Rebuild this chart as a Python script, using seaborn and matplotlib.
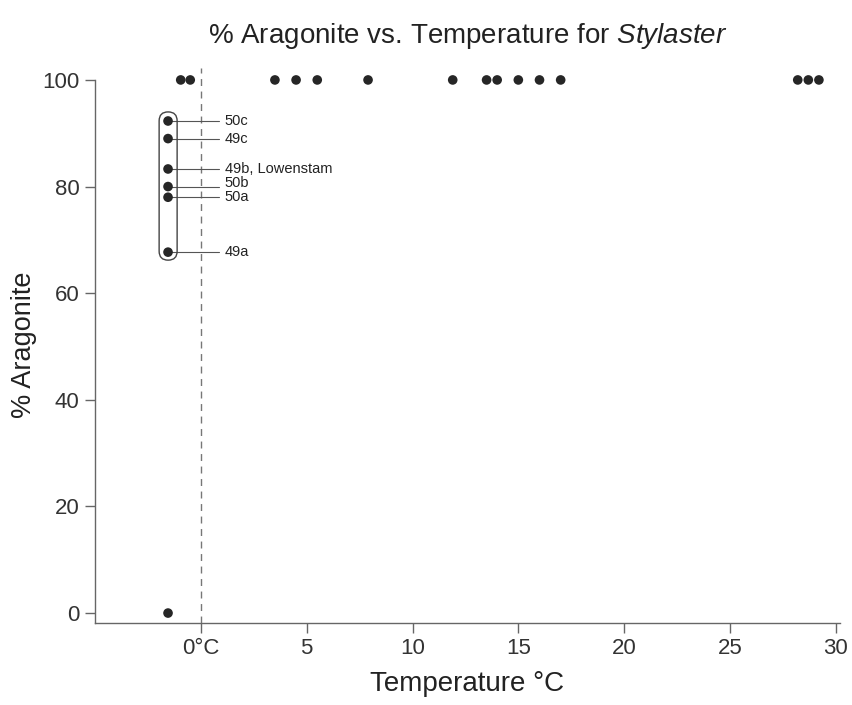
import matplotlib
matplotlib.use("Agg")
import matplotlib.pyplot as plt
import seaborn as sns
import pandas as pd
from matplotlib.patches import FancyBboxPatch

sns.set_style("white")
plt.rcParams['font.family'] = ['Liberation Sans', 'DejaVu Sans']
plt.rcParams['mathtext.fontset'] = 'custom'
plt.rcParams['mathtext.it'] = 'Liberation Sans:italic'
plt.rcParams['mathtext.rm'] = 'Liberation Sans'

# Data
temp_100 = [-0.95, -0.5, 3.5, 4.5, 5.5, 7.9, 11.9, 13.5, 14.0, 15.0, 16.0, 17.0, 28.2, 28.7, 29.2]
arag_100 = [100] * len(temp_100)
cluster_temp = [-1.55, -1.55, -1.55, -1.55, -1.55, -1.55]
cluster_arag = [92.3, 89.0, 83.3, 80.0, 78.0, 67.7]
cluster_labels = ["50c", "49c", "49b, Lowenstam", "50b", "50a", "49a"]
label_y = [92.3, 89.0, 83.3, 80.6, 78.0, 67.7]
zero_temp = [-1.55]
zero_arag = [0]

df = pd.DataFrame({
    "temp": temp_100 + cluster_temp + zero_temp,
    "arag": arag_100 + cluster_arag + zero_arag,
})

fig = plt.figure(figsize=(8.52, 7.05), dpi=100)
ax = fig.add_axes([0.1115, 0.1168, 0.8745, 0.7872])

sns.scatterplot(data=df, x="temp", y="arag", ax=ax, color="#262626", s=48,
                edgecolor="none", zorder=3)

ax.set_xlim(-5.0, 30.2)
ax.set_ylim(-1.8, 102.3)

ax.axvline(0, color="#777777", lw=1, ls=(0, (5, 4)), zorder=1)

# leader lines and labels
for t, a, ly, lab in zip(cluster_temp, cluster_arag, label_y, cluster_labels):
    ax.plot([t, 0.86], [a, a], color="#555555", lw=0.8, zorder=2)
    ax.text(1.12, ly, lab, fontsize=10.5, va="center", ha="left", color="#222222")

box = FancyBboxPatch((-1.97, 66.2), 0.85, 27.8,
                     boxstyle="round,pad=0,rounding_size=0.42",
                     mutation_aspect=4.0,
                     fill=False, edgecolor="#444444", lw=1, zorder=2)
ax.add_patch(box)

ax.set_xticks([0, 5, 10, 15, 20, 25, 30])
ax.set_xticklabels(["0°C", "5", "10", "15", "20", "25", "30"])
ax.set_yticks([0, 20, 40, 60, 80, 100])

for s in ["top", "right"]:
    ax.spines[s].set_visible(False)
for s in ["left", "bottom"]:
    ax.spines[s].set_color("#666666")
    ax.spines[s].set_linewidth(1)
ax.spines["left"].set_bounds(-1.8, 100)

ax.tick_params(axis="both", direction="out", length=7, width=1, color="#666666",
               labelsize=16, labelcolor="#333333", pad=4, bottom=True, left=True)

ax.set_xlabel("Temperature °C", fontsize=20, color="#222222", labelpad=9)
ax.set_ylabel("% Aragonite", fontsize=19.5, color="#222222", labelpad=4)
ax.set_title(r"% Aragonite vs. Temperature for $\it{Stylaster}$", fontsize=20,
             color="#222222", pad=18)

fig.savefig("out.png", dpi=100)
